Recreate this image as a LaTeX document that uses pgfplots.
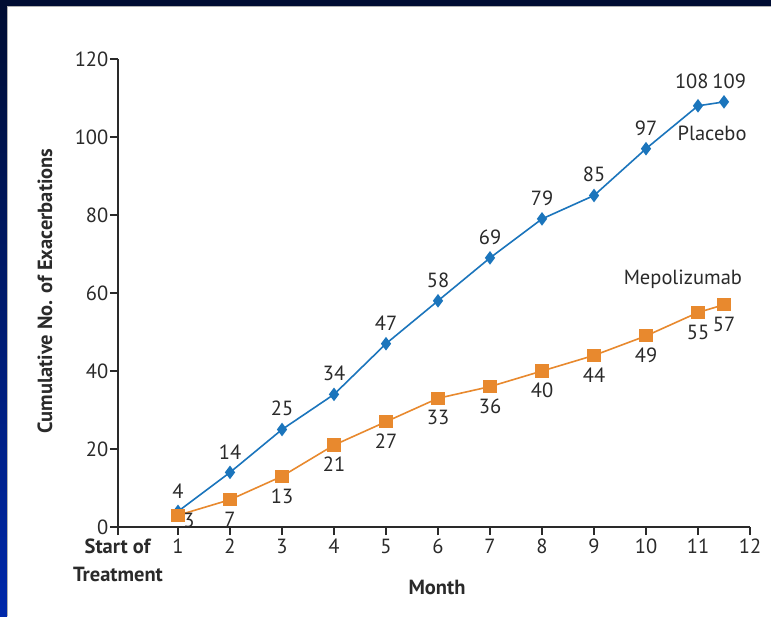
\documentclass[border=0pt]{standalone}
\usepackage{pgfplots}
\pgfplotsset{compat=1.18}
\usepackage{pgfplotstable}
\usepackage{fontspec}
\setmainfont{PT Sans}
\definecolor{pblue}{HTML}{1B75BC}
\definecolor{morange}{HTML}{E8892E}
\definecolor{axgray}{HTML}{2A2A2A}
\definecolor{navyband}{HTML}{000D33}
\definecolor{sideblue}{HTML}{0028AA}

\pgfplotstableread{
x y lab
1 4 4
2 14 14
3 25 25
4 34 34
5 47 47
6 58 58
7 69 69
8 79 79
9 85 85
10 97 97
11 108 {}
11.5 109 {}
}\placebo

\pgfplotstableread{
x y lab
1 3 {}
2 7 7
3 13 13
4 21 21
5 27 27
6 33 33
7 36 36
8 40 40
9 44 44
10 49 49
11 55 55
11.5 57 57
}\mepo

\begin{document}
\begin{tikzpicture}[font=\fontsize{20.5}{24}\selectfont]
\useasboundingbox (0pt,0pt) rectangle (771pt,616pt);
\fill[white] (0pt,0pt) rectangle (771pt,616pt);
\fill[navyband] (0pt,610pt) rectangle (771pt,616pt);
\shade[top color=navyband, bottom color=sideblue] (0pt,0pt) rectangle (7pt,610pt);
\draw[gray!60, line width=1.2pt] (7.6pt,0pt) -- (7.6pt,609.4pt) -- (771pt,609.4pt);
\begin{axis}[
  at={(118pt,89pt)}, anchor=south west,
  scale only axis, width=632pt, height=468pt,
  xmin=-0.154, xmax=12, ymin=0, ymax=120,
  axis lines*=left,
  clip=false,
  axis line style={axgray, line width=1.6pt},
  every tick/.style={axgray, line width=1.6pt},
  tick align=outside,
  major tick length=8pt,
  xtick={-0.154,1,2,3,4,5,6,7,8,9,10,11,12},
  xticklabels={{\textbf{Start of}\\[4pt]\textbf{Treatment}},1,2,3,4,5,6,7,8,9,10,11,12},
  xticklabel style={align=center, inner sep=1pt, yshift=-3pt, text=axgray},
  ytick={0,20,...,120},
  yticklabel style={inner sep=1.5pt, text=axgray},
  /pgf/number format/assume math mode=true,
  nodes near coords,
  point meta=explicit symbolic,
]
\addplot[pblue, line width=1.6pt, mark=diamond*, mark size=5.5pt,
  mark options={fill=pblue, draw=pblue},
  every node near coord/.style={anchor=south, inner sep=1pt, yshift=11.5pt, text=axgray}]
  table[x=x, y=y, meta=lab] {\placebo};
\addplot[morange, line width=1.6pt, mark=square*, mark size=5.8pt,
  mark options={fill=morange, draw=morange},
  every node near coord/.style={anchor=north, inner sep=1pt, yshift=-10.5pt, text=axgray}]
  table[x=x, y=y, meta=lab] {\mepo};
\node[text=axgray] at (axis cs:1.21,1.8) {3};
\node[text=axgray, inner sep=1pt] at (axis cs:10.88,114.2) {108};
\node[text=axgray, inner sep=1pt] at (axis cs:11.6,114.2) {109};
\node[text=axgray] at (axis cs:11.27,101) {Placebo};
\node[text=axgray] at (axis cs:10.71,63.6) {Mepolizumab};
\end{axis}
\node[rotate=90, text=axgray] at (45pt,325pt) {\textbf{Cumulative No. of Exacerbations}};
\node[text=axgray] at (437pt,29pt) {\textbf{Month}};
\end{tikzpicture}
\end{document}
